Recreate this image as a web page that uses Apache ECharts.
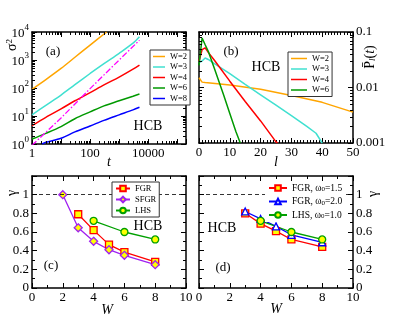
<!DOCTYPE html>
<html>
<head>
<meta charset="utf-8">
<script src="https://cdn.jsdelivr.net/npm/echarts@6/dist/echarts.min.js"></script>
<style>
html, body { margin: 0; padding: 0; background: #fff; }
#chart { width: 415px; height: 321px; }
</style>
</head>
<body>
<div id="chart"></div>
<script>
// (a) sigma^2 against t
const tA = [1, 3, 10, 30, 100, 300, 1000, 3000, 5000];
const tW2 = [1, 3, 10, 30, 100, 370];
const sigW2 = [90, 200, 500, 1250, 3400, 10000];
const sigW3 = [11, 24, 56, 132, 330, 740, 1740, 4000, 6800];
const sigW4 = [4.5, 9, 18, 35, 68, 129, 245, 470, 660];
const sigW6 = [1.5, 2.4, 4.2, 8, 14, 23, 35, 51, 61];
const tW8 = [2.2, 3, 10, 30, 100, 300, 1000, 3000, 5000];
const sigW8 = [1.0, 1.15, 1.6, 2.7, 4.4, 7, 11, 16.5, 20.5];
const tRef = [1, 10, 100, 1000, 5000];
const sigRef = [0.9, 8.5, 95, 1000, 5100];

// (b) P_l(t) against l
const lW2 = [0, 1, 2, 10, 20, 30, 40, 50];
const pW2 = [0.015, 0.0125, 0.0123, 0.0111, 0.0093, 0.0072, 0.0054, 0.0036];
const lW3 = [0, 1, 2, 3, 5, 10, 15, 20, 25, 30, 35, 38, 40];
const pW3 = [0.028, 0.03, 0.034, 0.032, 0.027, 0.0178, 0.0114, 0.0074, 0.0048, 0.0031, 0.002, 0.0015, 0.001];
const lW4 = [0, 1, 2, 3, 5, 10, 15, 20, 25, 25.5];
const pW4 = [0.03, 0.048, 0.052, 0.043, 0.031, 0.013, 0.0056, 0.0025, 0.00105, 0.001];
const lW6 = [0, 1, 2, 3, 5, 8, 10, 12, 13.4];
const pW6 = [0.025, 0.078, 0.059, 0.045, 0.022, 0.0073, 0.0034, 0.0016, 0.001];

// (c) gamma against W
const wFGR = [3, 4, 5, 6, 8];
const gFGR = [0.79, 0.62, 0.465, 0.385, 0.28];
const wSFGR = [2, 3, 4, 5, 6, 8];
const gSFGR = [1.0, 0.645, 0.5, 0.41, 0.35, 0.25];
const wLHS = [4, 6, 8];
const gLHS = [0.72, 0.60, 0.52];

// (d) gamma against W, other omega_0
const wD = [3, 4, 5, 6, 8];
const gFGR15 = [0.80, 0.69, 0.61, 0.52, 0.44];
const gFGR20 = [0.82, 0.74, 0.66, 0.57, 0.49];
const gLHS10 = [0.72, 0.60, 0.52];

const FONT = 'Liberation Serif';
const zip = (xs, ys) => xs.map((x, i) => [x, ys[i]]);

function ax(grid, pos, type, min, max, interval, minorSplit, label) {
    const a = {
        type: type, gridIndex: grid, position: pos, min: min, max: max,
        axisLine: { show: true, onZero: false, lineStyle: { color: '#000', width: 1.5 } },
        axisTick: { show: true, inside: true, length: 5, lineStyle: { color: '#000', width: 1 } },
        minorTick: { show: type !== 'log', splitNumber: minorSplit, length: 3, lineStyle: { color: '#000', width: 1 } },
        splitLine: { show: false },
        minorSplitLine: { show: false },
        axisLabel: label ? Object.assign({ show: true, color: '#000', fontFamily: FONT, fontSize: 13, margin: 3,
            showMinLabel: true, showMaxLabel: true }, label) : { show: false }
    };
    if (interval) a.interval = interval;
    if (type === 'log') a.logBase = 10;
    return a;
}

const isPow = v => { const e = Math.log10(v); return Math.abs(e - Math.round(e)) < 1e-6; };
const labA_x = { formatter: v => (isPow(v) && Math.round(Math.log10(v)) % 2 === 0) ? String(Math.round(v)) : '' };
const labA_y = {
    formatter: v => isPow(v) ? '{b|10}{s|' + Math.round(Math.log10(v)) + '}' : '',
    rich: {
        b: { fontFamily: FONT, fontSize: 13, lineHeight: 17, verticalAlign: 'bottom', color: '#000' },
        s: { fontFamily: FONT, fontSize: 9, lineHeight: 9, verticalAlign: 'top', color: '#000' }
    }
};
const labB_y = { formatter: v => isPow(v) ? String(Number(v.toPrecision(1))) : '' };
const labG_y = { formatter: v => v > 1.05 ? '' : String(Number(v.toFixed(1))) };

const xAxes = [
    ax(0, 'bottom', 'log', 1, 200000, null, 9, labA_x),
    ax(0, 'top', 'log', 1, 200000, null, 9, null),
    ax(1, 'bottom', 'value', 0, 50, 10, 10, {}),
    ax(1, 'top', 'value', 0, 50, 10, 10, null),
    ax(2, 'bottom', 'value', 0, 10, 2, 2, {}),
    ax(2, 'top', 'value', 0, 10, 2, 2, null),
    ax(3, 'bottom', 'value', 0, 10, 2, 2, {}),
    ax(3, 'top', 'value', 0, 10, 2, 2, null)
];
const yAxes = [
    ax(0, 'left', 'log', 1, 10000, null, 9, labA_y),
    ax(0, 'right', 'log', 1, 10000, null, 9, null),
    ax(1, 'left', 'log', 0.001, 0.1, null, 9, null),
    ax(1, 'right', 'log', 0.001, 0.1, null, 9, labB_y),
    ax(2, 'left', 'value', 0, 1.2, 0.2, 2, labG_y),
    ax(2, 'right', 'value', 0, 1.2, 0.2, 2, null),
    ax(3, 'left', 'value', 0, 1.2, 0.2, 2, null),
    ax(3, 'right', 'value', 0, 1.2, 0.2, 2, labG_y)
];

// minor ticks of the log axes, 2..9 x 10^n, drawn through the axis scale
function logSteps(lo, hi, max) {
    const out = [];
    for (let n = lo; n <= hi; n++) {
        for (let k = 2; k <= 9; k++) {
            const v = k * Math.pow(10, n);
            if (v < max) out.push([v]);
        }
    }
    return out;
}
function minorTicks(xi, yi, dir, vals, other) {
    return {
        type: 'custom', xAxisIndex: xi, yAxisIndex: yi, silent: true, z: 4, clip: false,
        data: vals,
        renderItem: (params, api) => {
            const cs = params.coordSys;
            const v = api.value(0);
            const st = { stroke: '#000', lineWidth: 1 };
            if (dir === 'x') {
                const px = Math.round(api.coord([v, other])[0]) + 0.5;
                return { type: 'group', children: [
                    { type: 'line', shape: { x1: px, y1: cs.y + cs.height, x2: px, y2: cs.y + cs.height - 3 }, style: st },
                    { type: 'line', shape: { x1: px, y1: cs.y, x2: px, y2: cs.y + 3 }, style: st }
                ] };
            }
            const py = Math.round(api.coord([other, v])[1]) + 0.5;
            return { type: 'group', children: [
                { type: 'line', shape: { x1: cs.x, y1: py, x2: cs.x + 3, y2: py }, style: st },
                { type: 'line', shape: { x1: cs.x + cs.width, y1: py, x2: cs.x + cs.width - 3, y2: py }, style: st }
            ] };
        }
    };
}

function curve(name, gi, yi, data, color, extra) {
    return Object.assign({
        type: 'line', name: name, xAxisIndex: gi * 2, yAxisIndex: yi, data: data,
        symbol: 'none', smooth: false, z: 3,
        lineStyle: { color: color, width: 1.5 }, itemStyle: { color: color }
    }, extra || {});
}

function marked(name, gi, yi, data, color, symbol, fill, size) {
    return {
        type: 'line', name: name, xAxisIndex: gi * 2, yAxisIndex: yi, data: data,
        symbol: symbol, symbolSize: size, z: 3,
        lineStyle: { color: color, width: 1.3 },
        itemStyle: { color: fill, borderColor: color, borderWidth: 1.3 }
    };
}

const refLine = {
    silent: true, symbol: ['none', 'none'], label: { show: false },
    lineStyle: { color: '#000', type: [4, 3], width: 0.8 },
    data: [{ yAxis: 1 }]
};

const series = [
    curve('W=2', 0, 0, zip(tW2, sigW2), '#FFA500', { smooth: 0.3 }),
    curve('W=3', 0, 0, zip(tA, sigW3), '#40E0D0', { smooth: 0.3 }),
    curve('W=4', 0, 0, zip(tA, sigW4), '#FF0000', { smooth: 0.3 }),
    curve('W=6', 0, 0, zip(tA, sigW6), '#009900', { smooth: 0.3 }),
    curve('W=8', 0, 0, zip(tW8, sigW8), '#0000FF', { smooth: 0.3 }),
    curve('ref', 0, 0, zip(tRef, sigRef), '#FF00FF', { lineStyle: { color: '#FF00FF', width: 1.3, type: [6, 2, 1.5, 2] } }),

    curve('b:W=2', 1, 3, zip(lW2, pW2), '#FFA500'),
    curve('b:W=3', 1, 3, zip(lW3, pW3), '#40E0D0'),
    curve('b:W=4', 1, 3, zip(lW4, pW4), '#FF0000'),
    curve('b:W=6', 1, 3, zip(lW6, pW6), '#009900'),

    Object.assign(marked('FGR', 2, 4, zip(wFGR, gFGR), '#FF0000', 'rect', '#FFFF00', 7), { markLine: refLine }),
    marked('SFGR', 2, 4, zip(wSFGR, gSFGR), '#A020F0', 'diamond', '#FFFF00', 8),
    marked('LHS', 2, 4, zip(wLHS, gLHS), '#00A000', 'circle', '#FFFF00', 7),

    Object.assign(marked('FGR, ω{sub|0}=1.5', 3, 7, zip(wD, gFGR15), '#FF0000', 'rect', '#FFFF00', 7), { markLine: refLine }),
    marked('FGR, ω{sub|0}=2.0', 3, 7, zip(wD, gFGR20), '#0000FF', 'triangle', '#FFFFFF', 7),
    marked('LHS, ω{sub|0}=1.0', 3, 7, zip(wLHS, gLHS10), '#00A000', 'circle', '#FFFF00', 7),

    minorTicks(0, 0, 'x', logSteps(0, 5, 200000), 1),
    minorTicks(0, 0, 'y', logSteps(0, 3, 10000), 1),
    minorTicks(2, 3, 'y', logSteps(-3, -2, 0.1), 0)
];

const legendBase = {
    orient: 'vertical', selectedMode: false, itemWidth: 12, itemHeight: 7, itemGap: 1,
    padding: [2, 3, 2, 3], borderColor: '#333', borderWidth: 1, backgroundColor: '#fff', z: 6,
    textStyle: { fontFamily: FONT, fontSize: 8.5, lineHeight: 9, color: '#000',
        rich: { sub: { fontFamily: FONT, fontSize: 6.5, lineHeight: 6, verticalAlign: 'bottom', color: '#000' } } }
};
const legends = [
    Object.assign({}, legendBase, { left: 150, top: 50, icon: 'rect', itemHeight: 1.5, itemGap: 1.5,
        data: ['W=2', 'W=3', 'W=4', 'W=6', 'W=8'] }),
    Object.assign({}, legendBase, { left: 288, top: 52, icon: 'rect', itemHeight: 1.5, itemWidth: 16, itemGap: 1.5,
        data: ['b:W=2', 'b:W=3', 'b:W=4', 'b:W=6'], formatter: n => n.replace('b:', '') }),
    Object.assign({}, legendBase, { left: 112, top: 182, itemWidth: 14, itemGap: 2, data: ['FGR', 'SFGR', 'LHS'] }),
    Object.assign({}, legendBase, { left: 265, top: 181, itemWidth: 18, itemGap: 3.5, borderWidth: 0,
        textStyle: { fontFamily: FONT, fontSize: 9.5, lineHeight: 10, color: '#000',
            rich: { sub: { fontFamily: FONT, fontSize: 7, lineHeight: 6, verticalAlign: 'bottom', color: '#000' } } },
        data: ['FGR, ω{sub|0}=1.5', 'FGR, ω{sub|0}=2.0', 'LHS, ω{sub|0}=1.0'] })
];

function txt(s, x, y, size, extra) {
    return Object.assign({
        type: 'text', x: x, y: y, z: 10, silent: true,
        style: Object.assign({ text: s, fontFamily: FONT, fontSize: size, fill: '#000',
            align: 'center', verticalAlign: 'middle' }, (extra && extra.style) || {})
    }, extra ? { rotation: extra.rotation || 0 } : {});
}
const vert = Math.PI / 2;
const labelRich = {
    n: { fontFamily: FONT, fontSize: 14, color: '#000' },
    i: { fontFamily: FONT, fontSize: 14, fontStyle: 'italic', color: '#000' },
    sup: { fontFamily: FONT, fontSize: 9, lineHeight: 9, verticalAlign: 'top', color: '#000' },
    sub: { fontFamily: FONT, fontSize: 9, lineHeight: 9, verticalAlign: 'bottom', fontStyle: 'italic', color: '#000' }
};
const graphics = [
    txt('(a)', 53, 52, 13),
    txt('HCB', 148, 126, 14),
    txt('(b)', 231, 52, 13),
    txt('HCB', 266, 67, 14),
    txt('(c)', 51, 266, 13),
    txt('HCB', 148, 226, 14),
    txt('(d)', 223, 268, 13),
    txt('HCB', 222, 228, 14),
    txt('t', 109, 162, 14, { style: { fontStyle: 'italic' } }),
    txt('l', 276, 162, 14, { style: { fontStyle: 'italic' } }),
    txt('W', 107, 310, 14, { style: { fontStyle: 'italic' } }),
    txt('W', 276, 309, 14, { style: { fontStyle: 'italic' } }),
    txt('', 12, 45, 14, { rotation: vert, style: { text: '{n|σ}{sup|2}', rich: labelRich } }),
    txt('', 370, 57, 14, { rotation: vert, style: { text: '{n|P\u0304}{sub|l}{n|(}{i|t}{n|)}', rich: labelRich } }),
    txt('γ', 12, 193, 14, { rotation: vert }),
    txt('γ', 373, 194, 14, { rotation: vert })
];

const chart = echarts.init(document.getElementById('chart'), null, { renderer: 'canvas' });
chart.setOption({
    animation: false,
    backgroundColor: '#fff',
    grid: [
        { left: 32, top: 32, width: 154, height: 112 },
        { left: 199, top: 32, width: 154, height: 111 },
        { left: 32, top: 176, width: 154, height: 112 },
        { left: 199, top: 176, width: 154, height: 112 }
    ],
    xAxis: xAxes,
    yAxis: yAxes,
    legend: legends,
    series: series,
    graphic: graphics
});
</script>
</body>
</html>
